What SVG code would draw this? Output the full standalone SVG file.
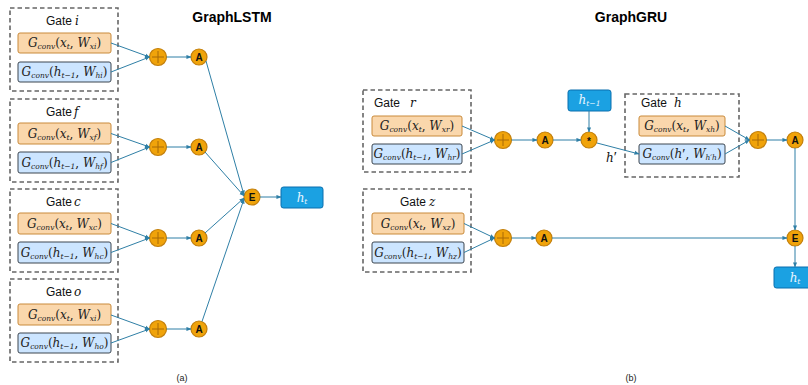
<svg xmlns="http://www.w3.org/2000/svg" width="808" height="385" viewBox="0 0 808 385">
  <style>
    .gate { fill: none; stroke: #666; stroke-width: 1.6; stroke-dasharray: 4.5 3; }
    .bx { fill: #fad7ac; stroke: #c98a3a; stroke-width: 1; }
    .bh { fill: #cce5ff; stroke: #3d4650; stroke-width: 1; }
    .ht { fill: #1ba1e2; stroke: #0a6fae; stroke-width: 1; }
    .op { fill: #f0a30a; stroke: #c27f0c; stroke-width: 1.2; }
    .plus { stroke: #a86a06; stroke-width: 1; fill: none; }
    .opt { font-family: "Liberation Sans", Arial, sans-serif; font-weight: bold; font-size: 10px; fill: #111; text-anchor: middle; }
    .m { font-family: "DejaVu Serif", "Liberation Serif", serif; font-style: italic; font-size: 12px; fill: #222; text-anchor: middle; }
    .s { font-size: 7.5px; }
    .p { font-family: "Liberation Serif", serif; font-size: 15px; font-style: normal; }
    .u { font-style: normal; }
    .g { font-family: "Liberation Sans", Arial, sans-serif; font-size: 12px; fill: #111; }
    .gm { font-family: "DejaVu Serif", "Liberation Serif", serif; font-style: italic; font-size: 12px; fill: #111; }
    .title { font-family: "Liberation Sans", Arial, sans-serif; font-weight: bold; font-size: 14px; fill: #000; text-anchor: middle; }
    .cap { font-family: "Liberation Sans", Arial, sans-serif; font-size: 9px; fill: #222; text-anchor: middle; }
    .w { fill: #eaf6ff; }
    .c { fill: none; stroke: #2f7fa6; stroke-width: 1; marker-end: url(#arr); }
  </style>
  <defs>
    <marker id="arr" viewBox="0 0 6 6" refX="5.5" refY="3" markerWidth="5" markerHeight="5" orient="auto" markerUnits="userSpaceOnUse">
      <path d="M0,0.5 L6,3 L0,5.5 Z" fill="#2f7fa6"/>
    </marker>
  </defs>

  <rect width="808" height="385" fill="#fff"/>

  <!-- titles -->
  <text class="title" x="232" y="22">GraphLSTM</text>
  <text class="title" x="631" y="22">GraphGRU</text>
  <text class="cap" x="182" y="381">(a)</text>
  <text class="cap" x="631" y="381">(b)</text>

  <!-- ===== GraphLSTM ===== -->
  <g id="gate-i">
    <rect class="gate" x="10" y="8" width="108" height="83"/>
    <text class="g" x="46" y="25">Gate</text><text class="gm" x="75" y="25">i</text>
    <rect class="bx" x="18" y="33" width="93" height="20" rx="2"/>
    <text class="m" x="64.5" y="47">G<tspan class="s" dy="2">conv</tspan><tspan class="u" dy="-2">(</tspan>x<tspan class="s" dy="2">t</tspan><tspan class="u" dy="-2">, </tspan>W<tspan class="s" dy="2">xi</tspan><tspan class="u" dy="-2">)</tspan></text>
    <rect class="bh" x="18" y="62" width="93" height="20" rx="2"/>
    <text class="m" x="64.5" y="76">G<tspan class="s" dy="2">conv</tspan><tspan class="u" dy="-2">(</tspan>h<tspan class="s" dy="2">t−1</tspan><tspan class="u" dy="-2">, </tspan>W<tspan class="s" dy="2">hi</tspan><tspan class="u" dy="-2">)</tspan></text>
  </g>
  <g id="gate-f">
    <rect class="gate" x="10" y="99" width="108" height="83"/>
    <text class="g" x="46" y="116">Gate</text><text class="gm" x="74" y="116">f</text>
    <rect class="bx" x="18" y="123" width="93" height="21" rx="2"/>
    <text class="m" x="64.5" y="137.5">G<tspan class="s" dy="2">conv</tspan><tspan class="u" dy="-2">(</tspan>x<tspan class="s" dy="2">t</tspan><tspan class="u" dy="-2">, </tspan>W<tspan class="s" dy="2">xf</tspan><tspan class="u" dy="-2">)</tspan></text>
    <rect class="bh" x="18" y="152" width="93" height="21" rx="2"/>
    <text class="m" x="64.5" y="166.5">G<tspan class="s" dy="2">conv</tspan><tspan class="u" dy="-2">(</tspan>h<tspan class="s" dy="2">t−1</tspan><tspan class="u" dy="-2">, </tspan>W<tspan class="s" dy="2">hf</tspan><tspan class="u" dy="-2">)</tspan></text>
  </g>
  <g id="gate-c">
    <rect class="gate" x="10" y="189" width="108" height="83"/>
    <text class="g" x="46" y="206">Gate</text><text class="gm" x="74" y="206">c</text>
    <rect class="bx" x="18" y="213" width="93" height="21" rx="2"/>
    <text class="m" x="64.5" y="227.5">G<tspan class="s" dy="2">conv</tspan><tspan class="u" dy="-2">(</tspan>x<tspan class="s" dy="2">t</tspan><tspan class="u" dy="-2">, </tspan>W<tspan class="s" dy="2">xc</tspan><tspan class="u" dy="-2">)</tspan></text>
    <rect class="bh" x="18" y="242" width="93" height="21" rx="2"/>
    <text class="m" x="64.5" y="256.5">G<tspan class="s" dy="2">conv</tspan><tspan class="u" dy="-2">(</tspan>h<tspan class="s" dy="2">t−1</tspan><tspan class="u" dy="-2">, </tspan>W<tspan class="s" dy="2">hc</tspan><tspan class="u" dy="-2">)</tspan></text>
  </g>
  <g id="gate-o">
    <rect class="gate" x="10" y="279" width="108" height="83"/>
    <text class="g" x="46" y="296">Gate</text><text class="gm" x="74" y="296">o</text>
    <rect class="bx" x="18" y="304" width="93" height="21" rx="2"/>
    <text class="m" x="64.5" y="318.5">G<tspan class="s" dy="2">conv</tspan><tspan class="u" dy="-2">(</tspan>x<tspan class="s" dy="2">t</tspan><tspan class="u" dy="-2">, </tspan>W<tspan class="s" dy="2">xi</tspan><tspan class="u" dy="-2">)</tspan></text>
    <rect class="bh" x="18" y="333" width="93" height="20" rx="2"/>
    <text class="m" x="64.5" y="347">G<tspan class="s" dy="2">conv</tspan><tspan class="u" dy="-2">(</tspan>h<tspan class="s" dy="2">t−1</tspan><tspan class="u" dy="-2">, </tspan>W<tspan class="s" dy="2">ho</tspan><tspan class="u" dy="-2">)</tspan></text>
  </g>

  <g id="lstm-ops">
    <g id="plus-i"><circle class="op" cx="158" cy="57" r="8.5"/><path class="plus" d="M152,57 H164 M158,51 V63"/></g>
    <g id="plus-f"><circle class="op" cx="158" cy="147" r="8.5"/><path class="plus" d="M152,147 H164 M158,141 V153"/></g>
    <g id="plus-c"><circle class="op" cx="158" cy="238" r="8.5"/><path class="plus" d="M152,238 H164 M158,232 V244"/></g>
    <g id="plus-o"><circle class="op" cx="158" cy="329" r="8.5"/><path class="plus" d="M152,329 H164 M158,323 V335"/></g>
    <g id="act-i"><circle class="op" cx="199" cy="57" r="8"/><text class="opt" x="199" y="60.6">A</text></g>
    <g id="act-f"><circle class="op" cx="199" cy="147" r="8"/><text class="opt" x="199" y="150.6">A</text></g>
    <g id="act-c"><circle class="op" cx="199" cy="238" r="8"/><text class="opt" x="199" y="241.6">A</text></g>
    <g id="act-o"><circle class="op" cx="199" cy="329" r="8"/><text class="opt" x="199" y="332.6">A</text></g>
    <g id="elem-lstm"><circle class="op" cx="252" cy="197" r="8"/><text class="opt" x="252" y="200.6">E</text></g>
    <g id="ht-lstm"><rect class="ht" x="281" y="187" width="42" height="21" rx="2.5"/><text class="m w" x="302" y="201.5">h<tspan class="s" dy="2">t</tspan></text></g>
  </g>

  <!-- ===== GraphGRU ===== -->
  <g id="gate-r">
    <rect class="gate" x="363" y="90" width="108" height="82"/>
    <text class="g" x="374" y="107">Gate</text><text class="gm" x="410" y="107">r</text>
    <rect class="bx" x="372" y="116" width="90" height="20" rx="2"/>
    <text class="m" x="417" y="130">G<tspan class="s" dy="2">conv</tspan><tspan class="u" dy="-2">(</tspan>x<tspan class="s" dy="2">t</tspan><tspan class="u" dy="-2">, </tspan>W<tspan class="s" dy="2">xr</tspan><tspan class="u" dy="-2">)</tspan></text>
    <rect class="bh" x="372" y="144" width="90" height="20" rx="2"/>
    <text class="m" x="417" y="158">G<tspan class="s" dy="2">conv</tspan><tspan class="u" dy="-2">(</tspan>h<tspan class="s" dy="2">t−1</tspan><tspan class="u" dy="-2">, </tspan>W<tspan class="s" dy="2">hr</tspan><tspan class="u" dy="-2">)</tspan></text>
  </g>
  <g id="gate-z">
    <rect class="gate" x="363" y="189" width="108" height="83"/>
    <text class="g" x="400" y="206">Gate</text><text class="gm" x="429" y="206">z</text>
    <rect class="bx" x="372" y="213" width="92" height="21" rx="2"/>
    <text class="m" x="418" y="227.5">G<tspan class="s" dy="2">conv</tspan><tspan class="u" dy="-2">(</tspan>x<tspan class="s" dy="2">t</tspan><tspan class="u" dy="-2">, </tspan>W<tspan class="s" dy="2">xz</tspan><tspan class="u" dy="-2">)</tspan></text>
    <rect class="bh" x="372" y="242" width="92" height="21" rx="2"/>
    <text class="m" x="418" y="256.5">G<tspan class="s" dy="2">conv</tspan><tspan class="u" dy="-2">(</tspan>h<tspan class="s" dy="2">t−1</tspan><tspan class="u" dy="-2">, </tspan>W<tspan class="s" dy="2">hz</tspan><tspan class="u" dy="-2">)</tspan></text>
  </g>
  <g id="gate-h">
    <rect class="gate" x="625" y="94" width="114" height="83"/>
    <text class="g" x="641" y="107">Gate</text><text class="gm" x="674" y="107">h</text>
    <rect class="bx" x="639" y="116" width="86" height="20" rx="2"/>
    <text class="m" x="682" y="130">G<tspan class="s" dy="2">conv</tspan><tspan class="u" dy="-2">(</tspan>x<tspan class="s" dy="2">t</tspan><tspan class="u" dy="-2">, </tspan>W<tspan class="s" dy="2">xh</tspan><tspan class="u" dy="-2">)</tspan></text>
    <rect class="bh" x="639" y="144" width="86" height="20" rx="2"/>
    <text class="m" x="682" y="158">G<tspan class="s" dy="2">conv</tspan><tspan class="u" dy="-2">(</tspan>h<tspan class="p" dy="1">′</tspan><tspan class="u" dy="-1">, </tspan>W<tspan class="s" dy="2">h′h</tspan><tspan class="u" dy="-2">)</tspan></text>
  </g>
  <g id="ht-prev">
    <rect class="ht" x="568" y="90" width="43" height="21" rx="2.5"/>
    <text class="m w" x="589.5" y="104">h<tspan class="s" dy="2">t−1</tspan></text>
  </g>

  <g id="gru-ops">
    <g id="plus-r"><circle class="op" cx="503" cy="140" r="8.5"/><path class="plus" d="M497,140 H509 M503,134 V146"/></g>
    <g id="act-r"><circle class="op" cx="545" cy="140" r="8"/><text class="opt" x="545" y="143.6">A</text></g>
    <g id="mul-r"><circle class="op" cx="589" cy="140" r="8"/><text class="opt" x="589" y="145">*</text></g>
    <g id="plus-h"><circle class="op" cx="758" cy="140" r="8.5"/><path class="plus" d="M752,140 H764 M758,134 V146"/></g>
    <g id="act-h"><circle class="op" cx="795" cy="140" r="8"/><text class="opt" x="795" y="143.6">A</text></g>
    <g id="plus-z"><circle class="op" cx="503" cy="238" r="8.5"/><path class="plus" d="M497,238 H509 M503,232 V244"/></g>
    <g id="act-z"><circle class="op" cx="544" cy="238" r="8"/><text class="opt" x="544" y="241.6">A</text></g>
    <g id="elem-gru"><circle class="op" cx="795" cy="238" r="8"/><text class="opt" x="795" y="241.6">E</text></g>
    <g id="ht-gru"><rect class="ht" x="774" y="267" width="44" height="21" rx="2.5"/><text class="m w" x="795" y="281.5">h<tspan class="s" dy="2">t</tspan></text></g>
    <text class="gm" x="606" y="162" font-size="13px">h<tspan class="p" font-size="17px" dy="0">′</tspan></text>
  </g>

  <!-- connectors -->
  <g id="connectors">
    <path class="c" d="M111,43 L149.5,57"/>
    <path class="c" d="M111,72 L149.5,57"/>
    <path class="c" d="M166.5,57 H191"/>
    <path class="c" d="M111,133.5 L149.5,147"/>
    <path class="c" d="M111,162.5 L149.5,147"/>
    <path class="c" d="M166.5,147 H191"/>
    <path class="c" d="M111,223.5 L149.5,238"/>
    <path class="c" d="M111,252.5 L149.5,238"/>
    <path class="c" d="M166.5,238 H191"/>
    <path class="c" d="M111,315 L149.5,329"/>
    <path class="c" d="M111,343 L149.5,329"/>
    <path class="c" d="M166.5,329 H191"/>
    <path class="c" d="M206,61 L244,195"/>
    <path class="c" d="M205,152 L244,196"/>
    <path class="c" d="M205,233 L244,198"/>
    <path class="c" d="M202,321.5 L244,199"/>
    <path class="c" d="M260,197 H281"/>

    <path class="c" d="M462,126 L494.5,140"/>
    <path class="c" d="M462,154 L494.5,140"/>
    <path class="c" d="M511.5,140 H537"/>
    <path class="c" d="M553,140 H581"/>
    <path class="c" d="M589,111 V132"/>
    <path class="c" d="M597,143 L639,154"/>
    <path class="c" d="M725,126 L749.5,140"/>
    <path class="c" d="M725,154 L749.5,140"/>
    <path class="c" d="M766.5,140 H787"/>
    <path class="c" d="M795,148 V230"/>
    <path class="c" d="M464,223.5 L494.5,238"/>
    <path class="c" d="M464,252.5 L494.5,238"/>
    <path class="c" d="M511.5,238 H536"/>
    <path class="c" d="M552,238 H787"/>
    <path class="c" d="M795,246 V267"/>
  </g>
</svg>
